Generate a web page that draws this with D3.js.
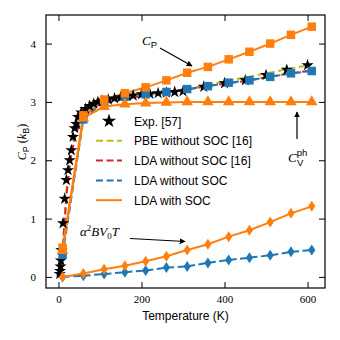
<!DOCTYPE html>
<html>
<head>
<meta charset="utf-8">
<script src="https://cdn.jsdelivr.net/npm/d3@7"></script>
<style>
  body { margin: 0; background: #fff; }
  svg { display: block; }
</style>
</head>
<body>
<div id="chart"></div>
<script>
'use strict';

// temperatures of the computed points (K)
var tGrid = [10, 60, 110, 160, 210, 260, 310, 360, 410, 460, 510, 560, 610];

// LDA with SOC
var cpSoc = [0.50, 2.77, 3.04, 3.15, 3.25, 3.37, 3.50, 3.60, 3.73, 3.86, 4.00, 4.15, 4.29];
var cvSoc = [0.45, 2.72, 2.92, 2.96, 2.98, 2.99, 3.00, 3.00, 3.00, 3.00, 3.00, 3.00, 3.00];
var dilSoc = [0.00, 0.06, 0.13, 0.19, 0.27, 0.355, 0.46, 0.56, 0.69, 0.80, 0.94, 1.09, 1.21];

// LDA without SOC
var cpNoSoc = [0.38, 2.70, 3.02, 3.09, 3.13, 3.17, 3.22, 3.27, 3.33, 3.37, 3.43, 3.49, 3.53];
var dilNoSoc = [0.00, 0.02, 0.05, 0.08, 0.11, 0.16, 0.18, 0.24, 0.29, 0.33, 0.37, 0.43, 0.46];

// reference curves [16]
var pbeRef = [[0, 0], [10, 0.50], [20, 1.55], [30, 2.15], [40, 2.50], [50, 2.70], [60, 2.80], [80, 2.92],
  [100, 2.98], [150, 3.06], [200, 3.11], [250, 3.16], [300, 3.21], [350, 3.28], [400, 3.35],
  [450, 3.42], [500, 3.49], [550, 3.56], [610, 3.64]];
var ldaRef = [[0, 0], [10, 0.45], [20, 1.45], [30, 2.05], [40, 2.40], [50, 2.60], [60, 2.72], [80, 2.88],
  [100, 2.96], [150, 3.04], [200, 3.10], [250, 3.15], [300, 3.20], [350, 3.26], [400, 3.31],
  [450, 3.36], [500, 3.42], [550, 3.48], [610, 3.54]];

// experiment [57]
var expData = [[3, 0.05], [4, 0.10], [5, 0.18], [6, 0.28], [7, 0.46], [11, 0.92], [15, 1.34], [19, 1.66],
  [23, 1.83], [27, 2.00], [31, 2.17], [35, 2.40], [39, 2.55], [43, 2.62], [47, 2.74], [55, 2.82],
  [65, 2.88], [75, 2.93], [85, 2.97], [95, 3.00], [105, 3.02], [120, 3.04], [135, 3.06], [150, 3.08],
  [165, 3.10], [180, 3.11], [200, 3.13], [220, 3.14], [240, 3.15], [260, 3.16], [280, 3.17],
  [300, 3.18], [350, 3.26], [400, 3.32], [450, 3.37], [500, 3.46], [550, 3.55], [600, 3.63]];

var xTicks = [0, 200, 400, 600];
var yTicks = [0, 1, 2, 3, 4];

var legendItems = ['Exp. [57]', 'PBE without SOC [16]', 'LDA without SOC [16]', 'LDA without SOC', 'LDA with SOC'];

var orange = '#ff7f0e', blue = '#1f77b4', red = '#d62728', olive = '#bcbd22';

var W = 340, H = 340;
var pLeft = 46, pRight = 325, pTop = 15, pBottom = 288;

var svg = d3.select('#chart').append('svg')
  .attr('width', W)
  .attr('height', H)
  .style('font-family', '"Liberation Sans", Arial, sans-serif');

var defs = svg.append('defs');
defs.append('clipPath').attr('id', 'plotclip')
  .append('rect').attr('x', pLeft).attr('y', pTop).attr('width', pRight - pLeft).attr('height', pBottom - pTop);
defs.append('marker')
  .attr('id', 'arrow')
  .attr('viewBox', '0 0 10 10')
  .attr('refX', 9).attr('refY', 5)
  .attr('markerWidth', 5).attr('markerHeight', 5)
  .attr('orient', 'auto')
  .append('path').attr('d', 'M0,0L10,5L0,10z').attr('fill', '#000');

var x = d3.scaleLinear().domain([-30, 642]).range([pLeft, pRight]);
var y = d3.scaleLinear().domain([-0.19, 4.49]).range([pBottom, pTop]);

function pairs(vals) {
  return tGrid.map(function (t, i) { return [t, vals[i]]; });
}

var line = d3.line()
  .x(function (d) { return x(d[0]); })
  .y(function (d) { return y(d[1]); });

var plot = svg.append('g').attr('clip-path', 'url(#plotclip)');

function drawLine(data, color, dash, width) {
  plot.append('path')
    .datum(data)
    .attr('d', line)
    .attr('fill', 'none')
    .attr('stroke', color)
    .attr('stroke-width', width || 2)
    .attr('stroke-dasharray', dash || null);
}

var squareSym = d3.symbol().type(d3.symbolSquare).size(72)();
var triSym = d3.symbol().type(d3.symbolTriangle).size(58)();
var starSym = d3.symbol().type(d3.symbolStar).size(46)();
var thinDiamond = 'M0,-5.5L3.6,0L0,5.5L-3.6,0Z';

function drawMarks(data, color, sym) {
  plot.append('g').selectAll('path')
    .data(data)
    .enter()
    .append('path')
    .attr('d', sym)
    .attr('fill', color)
    .attr('transform', function (d) { return 'translate(' + x(d[0]) + ',' + y(d[1]) + ')'; });
}

// lines
drawLine(pbeRef, olive, '7,3.5');
drawLine(ldaRef, red, '7,3.5');
drawLine(pairs(cpNoSoc), blue, '7,3.5');
drawLine(pairs(dilNoSoc), blue, '7,3.5');
drawLine(pairs(cvSoc), orange);
drawLine(pairs(cpSoc), orange);
drawLine(pairs(dilSoc), orange);

drawMarks(expData, '#000', starSym);
drawMarks(pairs(cpNoSoc), blue, squareSym);
drawMarks(pairs(dilNoSoc), blue, thinDiamond);
drawMarks(pairs(cvSoc), orange, triSym);
drawMarks(pairs(cpSoc), orange, squareSym);
drawMarks(pairs(dilSoc), orange, thinDiamond);

// axes, ticks pointing inward on all four sides
var tickFont = '"Liberation Serif", "DejaVu Serif", serif';

var gx = svg.append('g').attr('transform', 'translate(0,' + pBottom + ')')
  .call(d3.axisBottom(x).tickValues(xTicks).tickSize(-6).tickPadding(7).tickFormat(d3.format('d')));
var gxt = svg.append('g').attr('transform', 'translate(0,' + pTop + ')')
  .call(d3.axisTop(x).tickValues(xTicks).tickSize(-6).tickFormat(''));
var gy = svg.append('g').attr('transform', 'translate(' + pLeft + ',0)')
  .call(d3.axisLeft(y).tickValues(yTicks).tickSize(-6).tickPadding(10).tickFormat(d3.format('d')));
var gyr = svg.append('g').attr('transform', 'translate(' + pRight + ',0)')
  .call(d3.axisRight(y).tickValues(yTicks).tickSize(-6).tickFormat(''));

[gx, gxt, gy, gyr].forEach(function (g) {
  g.attr('font-family', tickFont);
  g.select('.domain').remove();
  g.selectAll('line').attr('stroke', '#000').attr('stroke-width', 1);
  g.selectAll('text').attr('font-size', 11).attr('fill', '#000');
});

svg.append('rect')
  .attr('x', pLeft).attr('y', pTop)
  .attr('width', pRight - pLeft).attr('height', pBottom - pTop)
  .attr('fill', 'none').attr('stroke', '#000').attr('stroke-width', 1.2);

// axis titles
svg.append('text')
  .attr('x', (pLeft + pRight) / 2).attr('y', 320)
  .attr('text-anchor', 'middle').attr('font-size', 12)
  .text('Temperature (K)');

var yl = svg.append('text')
  .attr('transform', 'translate(26,' + 142 + ') rotate(-90)')
  .attr('text-anchor', 'middle').attr('font-size', 12);
yl.append('tspan').attr('font-family', tickFont).attr('font-style', 'italic').text('C');
yl.append('tspan').attr('font-size', 9).attr('dy', 2.5).text('P');
yl.append('tspan').attr('dy', -2.5).attr('font-family', tickFont).text(' (');
yl.append('tspan').attr('font-family', tickFont).attr('font-style', 'italic').text('k');
yl.append('tspan').attr('font-size', 9).attr('dy', 2.5).text('B');
yl.append('tspan').attr('dy', -2.5).attr('font-family', tickFont).text(')');

// legend
var lg = svg.append('g').attr('transform', 'translate(96,121)');
var lgStyles = [
  { color: '#000', dash: null, star: true },
  { color: olive, dash: '7,3.5' },
  { color: red, dash: '7,3.5' },
  { color: blue, dash: '7,3.5' },
  { color: orange, dash: null }
];
legendItems.forEach(function (label, i) {
  var row = lg.append('g').attr('transform', 'translate(0,' + (i * 19.8) + ')');
  var st = lgStyles[i];
  if (st.star) {
    row.append('path').attr('d', d3.symbol().type(d3.symbolStar).size(64)()).attr('fill', '#000').attr('transform', 'translate(13,0)');
  } else {
    row.append('line')
      .attr('x1', 0).attr('x2', 26).attr('y1', 0).attr('y2', 0)
      .attr('stroke', st.color).attr('stroke-width', 2)
      .attr('stroke-dasharray', st.dash);
  }
  row.append('text').attr('x', 38).attr('y', 4.5).attr('font-size', 12).text(label);
});

// annotations
function arrow(x1, y1, x2, y2) {
  svg.append('line')
    .attr('x1', x1).attr('y1', y1).attr('x2', x2).attr('y2', y2)
    .attr('stroke', '#000').attr('stroke-width', 1.2)
    .attr('marker-end', 'url(#arrow)');
}

var a1 = svg.append('text').attr('x', 142).attr('y', 45).attr('font-size', 13);
a1.append('tspan').attr('font-family', tickFont).attr('font-style', 'italic').text('C');
a1.append('tspan').attr('font-size', 9.5).attr('dy', 2.5).text('P');
arrow(160, 48, 192, 66);

var a2 = svg.append('text').attr('x', 288).attr('y', 162).attr('font-size', 13);
a2.append('tspan').attr('font-family', tickFont).attr('font-style', 'italic').text('C');
a2.append('tspan').attr('font-size', 9.5).attr('dy', -6).text('ph');
a2.append('tspan').attr('font-size', 9.5).attr('x', 297).attr('dy', 10).text('V');
arrow(297, 139, 297, 112);

var a3 = svg.append('text').attr('x', 80).attr('y', 236).attr('font-size', 13)
  .attr('font-family', tickFont).attr('font-style', 'italic');
a3.append('tspan').text('α');
a3.append('tspan').attr('font-size', 9).attr('font-style', 'normal').attr('dy', -5).text('2');
a3.append('tspan').attr('dy', 5).text('BV');
a3.append('tspan').attr('font-size', 9).attr('font-style', 'normal').attr('dy', 2.5).text('0');
a3.append('tspan').attr('dy', -2.5).text('T');
arrow(130, 238.5, 185, 241.5);
</script>
</body>
</html>
